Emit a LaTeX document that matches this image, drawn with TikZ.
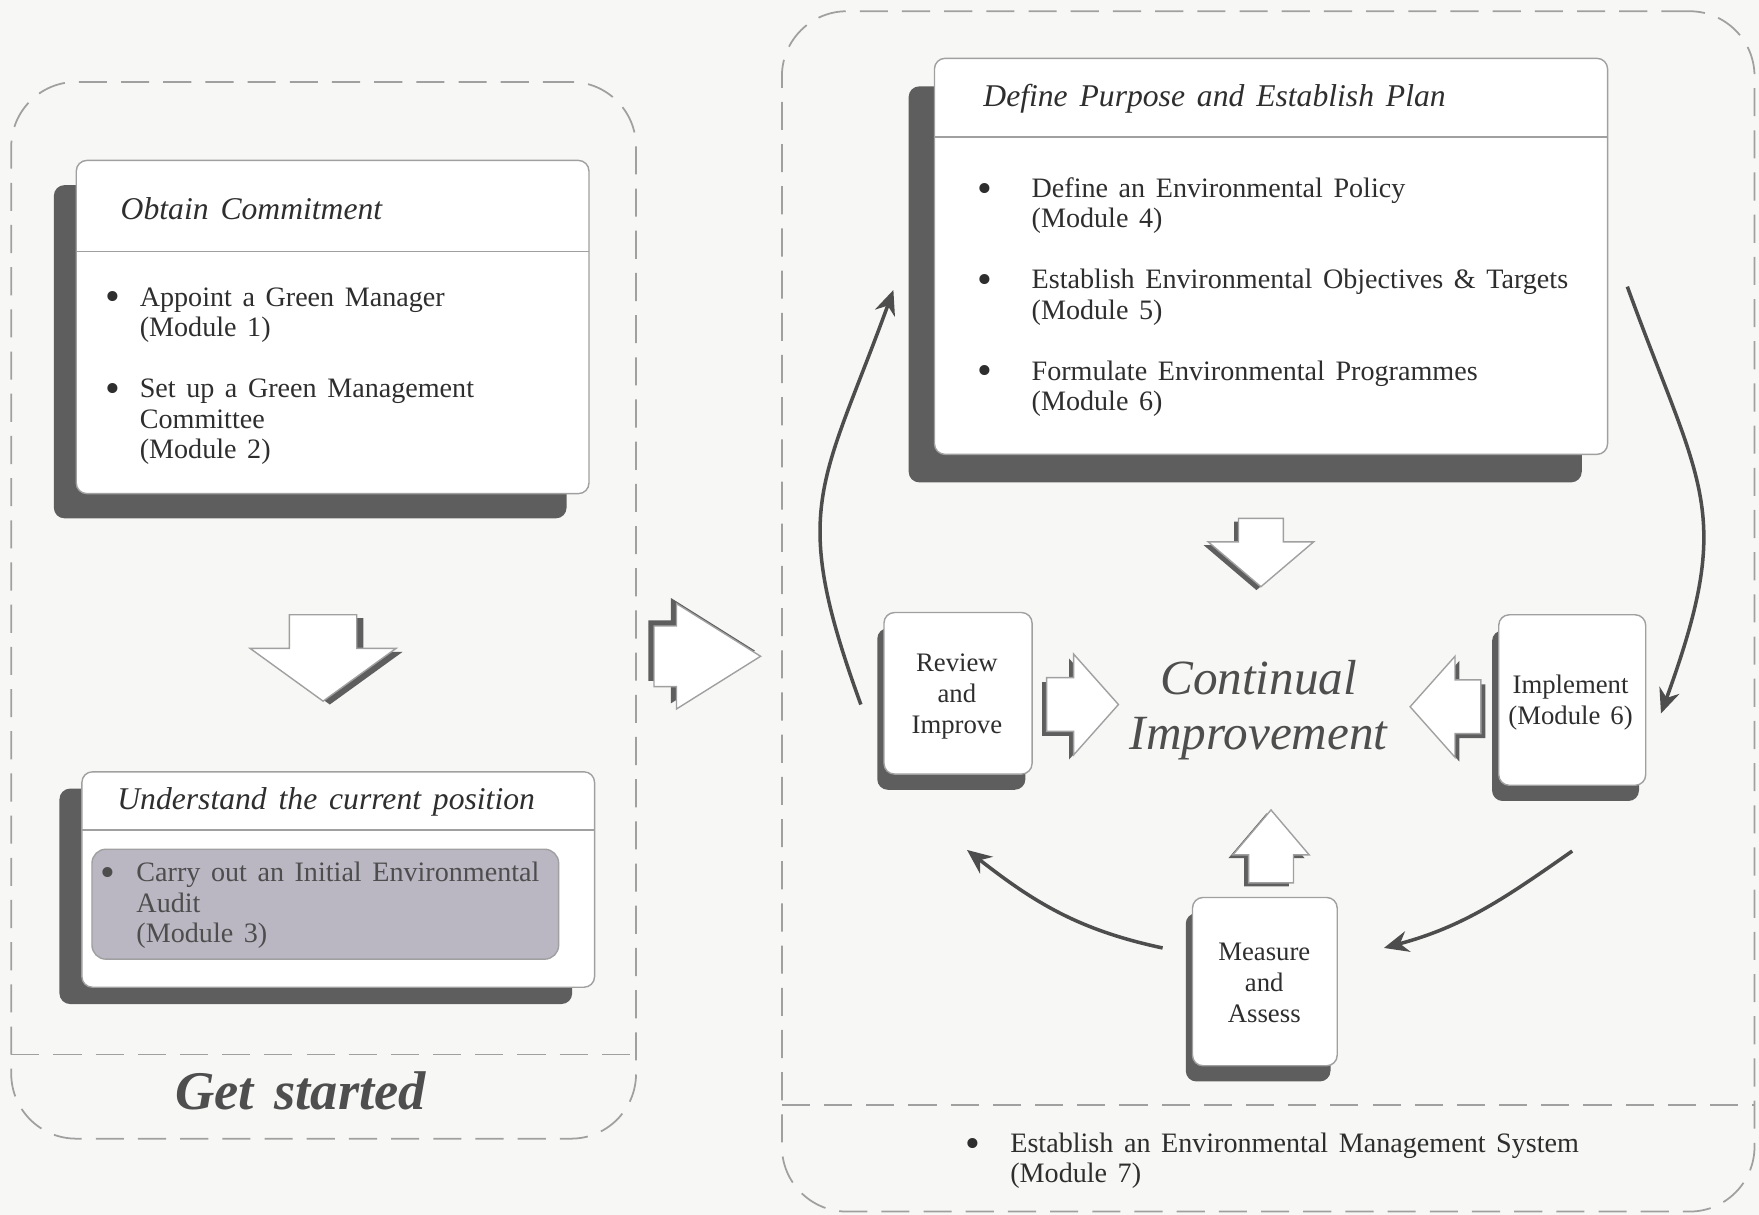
\documentclass[tikz,border=0pt]{standalone}
\usepackage{fontspec}
\setmainfont{Liberation Serif}[WordSpace=1.5]
\usetikzlibrary{arrows.meta,fit,shadows}

\definecolor{paper}{HTML}{F7F7F5}
\definecolor{ink}{HTML}{2E2E2E}
\definecolor{shadowgray}{HTML}{5E5E5E}
\definecolor{boxline}{HTML}{A0A0A0}
\definecolor{auditfill}{HTML}{BAB7C3}
\definecolor{loopgray}{HTML}{4D4D4D}
\definecolor{bigtext}{HTML}{4E4E4E}

% bullet hung to the left of an item
\newcommand{\bul}[1]{\llap{\raisebox{-0.35ex}{\scalebox{1.5}{\textbullet}}\hspace{#1}}}
% hollow block arrow: base, angle, shaft half width, shaft length, head half width, head length, shadow shift
\newcommand{\blockarrow}[7]{%
  \fill[shadowgray, shift={#7}, shift={#1}, rotate=#2] (0,-#3) -- (#4,-#3) -- (#4,-#5) -- ({#4+#6},0) -- (#4,#5) -- (#4,#3) -- (0,#3) -- cycle;
  \filldraw[fill=white, draw=boxline, line width=0.4pt, shift={#1}, rotate=#2] (0,-#3) -- (#4,-#3) -- (#4,-#5) -- ({#4+#6},0) -- (#4,#5) -- (#4,#3) -- (0,#3) -- cycle;}

\tikzset{
  panel/.style={draw=boxline, line width=0.5pt, dash pattern=on 8pt off 4pt, rounded corners=0.65cm, inner sep=0pt},
  panelline/.style={draw=boxline, line width=0.5pt, dash pattern=on 8pt off 4pt},
  boxshadow/.style 2 args={general shadow={fill=shadowgray, shadow xshift=#1, shadow yshift=#2}},
  stagebox/.style={draw=boxline, fill=white, line width=0.4pt, rounded corners=3pt, inner sep=0pt},
  stepbox/.style={stagebox, boxshadow={-0.067cm}{-0.157cm}},
  steptext/.style={align=center, inner sep=0pt, font=\fontsize{7.6}{8.8}\selectfont},
  stagetitle/.style={anchor=west, inner sep=0pt, font=\fontsize{9}{10}\selectfont\itshape},
  itemtext/.style={anchor=west, inner sep=0pt, align=left},
  cyclearrow/.style={draw=loopgray, line width=1pt, ->}
}

\begin{document}
\begin{tikzpicture}[x=0.011218cm, y=-0.011218cm, >={Stealth[length=7pt,width=6pt]},
    font=\fontsize{8}{8.6}\selectfont, text=ink]
  \useasboundingbox (0,0) rectangle (1568,1083);
  \fill[paper] (0,0) rectangle (1568,1083);

  % get started
  \node[panel, fit={(10,73) (567,1015)}] (start) {};
  \draw[panelline] (10,940) -- (567,940);
  \node[font=\fontsize{15.5}{18}\selectfont\bfseries\itshape, text=bigtext] (startlabel) at (268,972) {Get started};

  \node[stagebox, boxshadow={-0.224cm}{-0.247cm}, fit={(68,143) (525,440)}] (commit) {};
  \draw[boxline, line width=0.4pt] (68,224) -- (525,224);
  \node[stagetitle] (committitle) at (107,186) {Obtain Commitment};
  \node[itemtext] (commit1) at (124,281) {\bul{0.2cm}Appoint a Green Manager\\(Module 1)};
  \node[itemtext] (commit2) at (124,376) {\bul{0.2cm}Set up a Green Management\\Committee\\(Module 2)};

  \blockarrow{(288,548)}{-90}{30}{30}{65}{47}{(6,3)}

  \node[stagebox, boxshadow={-0.224cm}{-0.168cm}, fit={(73,688) (530,880)}] (position) {};
  \draw[boxline, line width=0.4pt] (73,740) -- (530,740);
  \node[stagetitle] (positiontitle) at (104,715) {Understand the current position};
  \node[draw=boxline, fill=auditfill, rounded corners=4pt, inner sep=0pt, fit={(82,757) (498,855)}] (audit) {};
  \node[itemtext, text=ink!85] (audit1) at (121,807) {\bul{0.21cm}Carry out an Initial Environmental\\Audit\\(Module 3)};

  \blockarrow{(583,585)}{0}{27}{20}{47}{75}{(-5,-5)}

  % continual improvement
  \node[panel, fit={(697,10) (1564,1080)}] (cycle) {};
  \draw[panelline] (697,985) -- (1564,985);
  \node[itemtext] (ems) at (900,1035) {\bul{0.3cm}Establish an Environmental Management System\\(Module 7)};

  \node[stagebox, boxshadow={-0.258cm}{-0.28cm}, fit={(833,52) (1433,405)}] (define) {};
  \draw[boxline, line width=0.4pt] (833,122) -- (1433,122);
  \node[stagetitle] (definetitle) at (876,88) {Define Purpose and Establish Plan};
  \node[itemtext] (define1) at (919,183.5) {\bul{0.39cm}Define an Environmental Policy\\(Module 4)};
  \node[itemtext] (define2) at (919,265) {\bul{0.39cm}Establish Environmental Objectives \& Targets\\(Module 5)};
  \node[itemtext] (define3) at (919,346.5) {\bul{0.39cm}Formulate Environmental Programmes\\(Module 6)};

  \node[stepbox, fit={(788,546) (920,690)}] (review) {};
  \node[stepbox, fit={(1336,548) (1467,700)}] (implement) {};
  \node[stepbox, fit={(1063,800) (1192,950)}] (measure) {};
  \node[steptext] (reviewtext) at (853,621) {Review\\and\\Improve};
  \node[steptext] (implementtext) at (1400,626) {Implement\\(Module 6)};
  \node[steptext] (measuretext) at (1127,876) {Measure\\and\\Assess};

  \node[align=center, font=\fontsize{14}{15.9}\selectfont\itshape, text=bigtext] (improve) at (1122,633) {Continual\\Improvement};

  \blockarrow{(1124,462)}{-90}{20}{21}{47}{40}{(-4,3)}
  \blockarrow{(933,628)}{0}{24}{24}{45}{40}{(-4,4)}
  \blockarrow{(1320,630)}{180}{24}{23}{45}{40}{(4,4)}
  \blockarrow{(1133,787)}{90}{20}{25}{34}{40}{(-4,3)}

  \draw[cyclearrow] ([shift={(-20,10)}]review.west) to[out=110, in=-110, looseness=1.3] ([shift={(-36,30)}]define.west);
  \draw[cyclearrow] ([shift={(17,27)}]define.east) to[out=-70, in=70, looseness=1.3] ([shift={(13,12)}]implement.east);
  \draw[cyclearrow] ([shift={(0,58)}]implement.south) to[out=-145, in=15] ([shift={(41,-30)}]measure.east);
  \draw[cyclearrow] ([shift={(-26,-30)}]measure.west) to[out=168, in=-38] ([shift={(8,67)}]review.south);
\end{tikzpicture}
\end{document}
